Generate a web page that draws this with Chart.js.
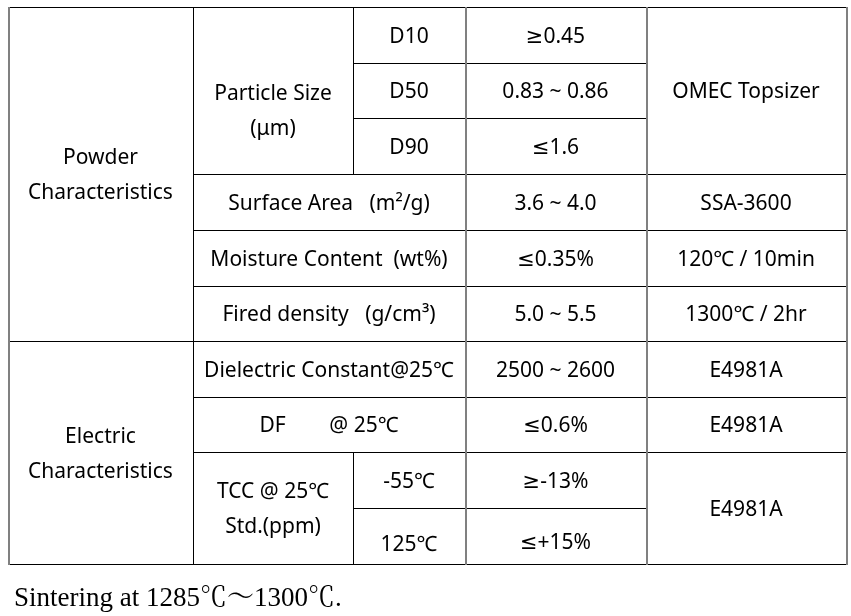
<!DOCTYPE html>
<html>
<head>
<meta charset="utf-8">
<script src="https://cdn.jsdelivr.net/npm/chart.js@4/dist/chart.umd.min.js"></script>
<style>
html, body { margin: 0; padding: 0; background: #fff; }
canvas { display: block; }
</style>
</head>
<body>
<canvas id="spec-table" width="851" height="616"></canvas>
<script>
// table content
var groups = ["Powder\nCharacteristics", "Electric\nCharacteristics"];
var groupRows = [6, 4];
var particleLabel = "Particle Size\n(μm)";
var particleSizes = ["D10", "D50", "D90"];
var properties = ["Surface Area   (m²/g)", "Moisture Content  (wt%)", "Fired density   (g/cm³)", "Dielectric Constant@25℃", "DF        @ 25℃"];
var tccLabel = "TCC @ 25℃\nStd.(ppm)";
var tccTemps = ["-55℃", "125℃"];
var specs = ["≥0.45", "0.83 ~ 0.86", "≤1.6", "3.6 ~ 4.0", "≤0.35%", "5.0 ~ 5.5", "2500 ~ 2600", "≤0.6%", "≥-13%", "≤+15%"];
var methods = ["OMEC Topsizer", "SSA-3600", "120℃ / 10min", "1300℃ / 2hr", "E4981A", "E4981A", "E4981A"];
var methodRows = [3, 1, 1, 1, 1, 1, 2];
var note = "Sintering at 1285℃～1300℃.";

// grid layout, page pixels
var colEdges = [8, 193, 353, 465, 646, 846];
var rowEdges = [7, 63, 118, 174, 230, 286, 341, 397, 452, 508, 564];
var greyEdges = [0, 3, 4, 5];
var nudges = { "Particle Size\n(μm)": 19, "125℃": 7, "≤+15%": 5 };
var textShift = 2;

var cells = [];
function addCell(text, r0, r1, c0, c1) {
    cells.push({ text: text, r0: r0, r1: r1, c0: c0, c1: c1 });
}
var r = 0;
groups.forEach(function (g, i) {
    addCell(g, r, r + groupRows[i], 0, 1);
    r += groupRows[i];
});
addCell(particleLabel, 0, 3, 1, 2);
particleSizes.forEach(function (t, i) { addCell(t, i, i + 1, 2, 3); });
properties.forEach(function (t, i) { addCell(t, 3 + i, 4 + i, 1, 3); });
addCell(tccLabel, 8, 10, 1, 2);
tccTemps.forEach(function (t, i) { addCell(t, 8 + i, 9 + i, 2, 3); });
specs.forEach(function (t, i) { addCell(t, i, i + 1, 3, 4); });
r = 0;
methods.forEach(function (t, i) {
    addCell(t, r, r + methodRows[i], 4, 5);
    r += methodRows[i];
});

var anchors = cells.map(function (c) {
    return {
        x: (colEdges[c.c0] + colEdges[c.c1]) / 2,
        y: (rowEdges[c.r0] + rowEdges[c.r1]) / 2 + textShift + (nudges[c.text] || 0)
    };
});

var tablePlugin = {
    id: "tableGrid",
    afterDatasetsDraw: function (chart) {
        var ctx = chart.ctx;
        var xs = chart.scales.x, ys = chart.scales.y;
        ctx.save();
        // horizontal borders
        ctx.strokeStyle = "#000";
        ctx.lineWidth = 1;
        cells.forEach(function (c) {
            [c.r0, c.r1].forEach(function (ri) {
                var y = Math.round(ys.getPixelForValue(rowEdges[ri])) + 0.5;
                ctx.beginPath();
                ctx.moveTo(xs.getPixelForValue(colEdges[c.c0]), y);
                ctx.lineTo(xs.getPixelForValue(colEdges[c.c1]) + 2, y);
                ctx.stroke();
            });
        });
        // vertical borders
        cells.forEach(function (c) {
            [c.c0, c.c1].forEach(function (ci) {
                var grey = greyEdges.indexOf(ci) >= 0;
                var x = Math.round(xs.getPixelForValue(colEdges[ci])) + (grey ? 1 : 0.5);
                ctx.strokeStyle = grey ? "#808080" : "#000";
                ctx.lineWidth = grey ? 2 : 1;
                ctx.beginPath();
                ctx.moveTo(x, ys.getPixelForValue(rowEdges[c.r0]));
                ctx.lineTo(x, ys.getPixelForValue(rowEdges[c.r1]) + 1);
                ctx.stroke();
            });
        });
        // cell texts at the dataset points
        ctx.fillStyle = "#000";
        ctx.font = "21px 'Noto Sans', 'DejaVu Sans', 'Noto Sans CJK TC', sans-serif";
        ctx.textAlign = "center";
        ctx.textBaseline = "middle";
        chart.getDatasetMeta(0).data.forEach(function (pt, i) {
            var lines = cells[i].text.split("\n");
            var lh = 35;
            lines.forEach(function (ln, k) {
                ctx.fillText(ln, pt.x, pt.y + (k - (lines.length - 1) / 2) * lh);
            });
        });
        // footnote
        ctx.textAlign = "left";
        ctx.textBaseline = "alphabetic";
        ctx.font = "27px 'Liberation Serif', 'Noto Serif CJK TC', serif";
        ctx.fillText(note, xs.getPixelForValue(14), ys.getPixelForValue(606));
        ctx.restore();
    }
};

new Chart("spec-table", {
    type: "scatter",
    data: {
        datasets: [
            {
                data: anchors,
                pointRadius: 0,
                pointHoverRadius: 0,
            },
        ],
    },
    options: {
        responsive: false,
        animation: false,
        events: [],
        layout: { padding: 0 },
        scales: {
            x: { type: "linear", min: 0, max: 851, display: false },
            y: { type: "linear", min: 0, max: 616, reverse: true, display: false },
        },
        plugins: {
            legend: { display: false },
            tooltip: { enabled: false },
        },
    },
    plugins: [tablePlugin],
});
</script>
</body>
</html>
